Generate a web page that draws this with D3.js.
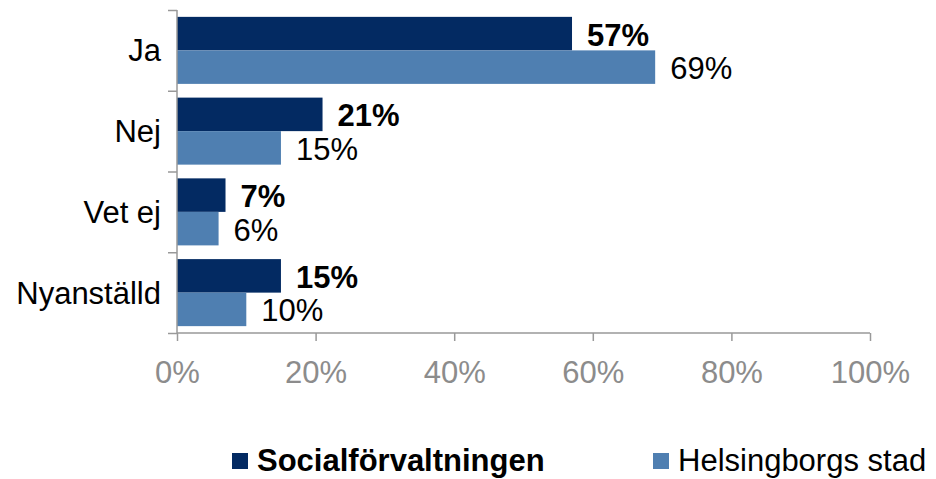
<!DOCTYPE html>
<html>
<head>
<meta charset="utf-8">
<script src="https://cdn.jsdelivr.net/npm/d3@7"></script>
<style>
  body { margin: 0; background: #fff; }
  text { font-family: "Liberation Sans", Arial, sans-serif; }
</style>
</head>
<body>
<svg id="chart" width="936" height="479"></svg>
<script>
// data
var categories = ["Ja", "Nej", "Vet ej", "Nyanställd"];
var seriesNames = ["Socialförvaltningen", "Helsingborgs stad"];
var socialValues = [57, 21, 7, 15];
var helsingborgValues = [69, 15, 6, 10];
var xTicks = [0, 20, 40, 60, 80, 100];

var colors = ["#032a62", "#4f7fb1"];
var plotLeft = 177, plotRight = 870, plotTop = 10, plotBottom = 333;
var fontSize = 31;

var svg = d3.select("#chart");

var x = d3.scaleLinear().domain([0, 100]).range([plotLeft, plotRight]);
var y = d3.scaleBand().domain(categories).range([plotTop, plotBottom]).paddingInner(0.17).paddingOuter(0.085);
var inner = d3.scaleBand().domain([0, 1]).range([0, y.bandwidth()]);

var rows = categories.map(function(c, i) {
    return { cat: c, vals: [socialValues[i], helsingborgValues[i]] };
});

// bars
var groups = svg.selectAll("g.cat")
    .data(rows).enter()
    .append("g")
    .attr("class", "cat")
    .attr("transform", function(d) { return "translate(0," + y(d.cat) + ")"; });

groups.selectAll("rect")
    .data(function(d) { return d.vals; }).enter()
    .append("rect")
    .attr("x", x(0))
    .attr("y", function(d, i) { return inner(i); })
    .attr("width", function(d) { return x(d) - x(0); })
    .attr("height", inner.bandwidth())
    .attr("fill", function(d, i) { return colors[i]; });

groups.selectAll("text.val")
    .data(function(d) { return d.vals; }).enter()
    .append("text")
    .attr("class", "val")
    .attr("x", function(d) { return x(d) + 15; })
    .attr("y", function(d, i) { return inner(i) + inner.bandwidth() / 2 + 12; })
    .attr("font-size", fontSize)
    .attr("font-weight", function(d, i) { return i == 0 ? "bold" : "normal"; })
    .attr("fill", "#000")
    .text(function(d) { return d + "%"; });

// y axis
var yAxis = d3.axisLeft(d3.scaleLinear().domain([0, categories.length]).range([plotTop, plotBottom]))
    .tickValues(d3.range(categories.length + 1))
    .tickSize(9)
    .tickFormat("");
var gy = svg.append("g").attr("transform", "translate(" + plotLeft + ",0)").call(yAxis);
gy.selectAll("path, line").attr("stroke", "#999").attr("stroke-width", 1.5);
gy.select(".domain").attr("d", "M0," + plotTop + "V" + plotBottom);

svg.selectAll("text.cat")
    .data(categories).enter()
    .append("text")
    .attr("class", "cat")
    .attr("x", 161)
    .attr("y", function(d) { return y(d) + y.bandwidth() / 2 + 11; })
    .attr("text-anchor", "end")
    .attr("font-size", fontSize)
    .attr("fill", "#000")
    .text(function(d) { return d; });

// x axis
var xAxis = d3.axisBottom(x)
    .tickValues(xTicks)
    .tickSize(8)
    .tickPadding(20)
    .tickFormat(function(d) { return d + "%"; });
var gx = svg.append("g").attr("transform", "translate(0," + plotBottom + ")").call(xAxis);
gx.selectAll("path, line").attr("stroke", "#999").attr("stroke-width", 1.5);
gx.select(".domain").attr("d", "M" + plotLeft + ",0H" + plotRight);
gx.selectAll("text")
    .attr("font-size", fontSize)
    .attr("font-family", "Liberation Sans, Arial, sans-serif")
    .attr("fill", "#8c8c8c");

// legend
var legendX = [232, 653];
var legend = svg.selectAll("g.legend")
    .data(seriesNames).enter()
    .append("g")
    .attr("class", "legend")
    .attr("transform", function(d, i) { return "translate(" + legendX[i] + ",453)"; });
legend.append("rect")
    .attr("width", 16).attr("height", 16)
    .attr("fill", function(d, i) { return colors[i]; });
legend.append("text")
    .attr("x", 25).attr("y", 18)
    .attr("font-size", fontSize)
    .attr("font-weight", function(d, i) { return i == 0 ? "bold" : "normal"; })
    .attr("fill", "#000")
    .text(function(d) { return d; });
</script>
</body>
</html>
